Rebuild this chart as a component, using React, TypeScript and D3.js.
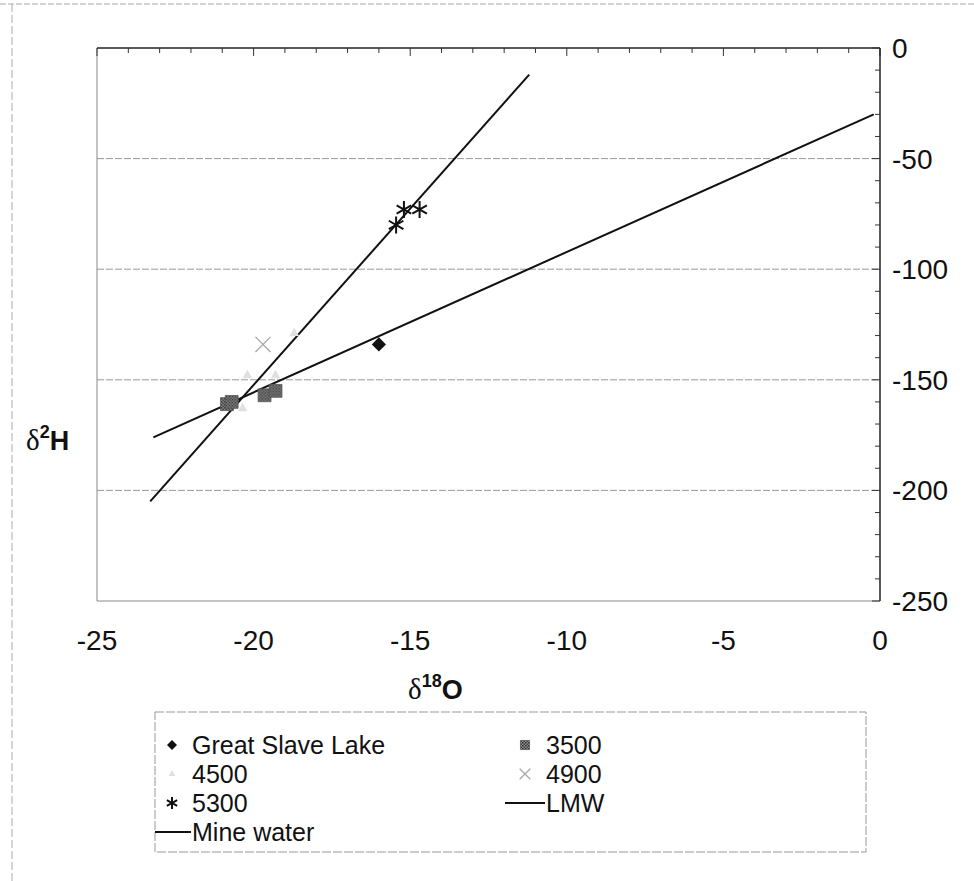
import React from "react";
import * as d3 from "d3";

const width = 974;
const height = 881;

// axes
const xDomain = [-25, 0];
const yDomain = [0, -250];
const xTickLabels = [-25, -20, -15, -10, -5, 0];
const yTickLabels = [0, -50, -100, -150, -200, -250];
const gridValues = [-50, -100, -150, -200];

// samples (δ18O, δ2H)
const greatSlaveLake = [[-16.0, -134]];
const depth3500 = [[-20.85, -161], [-20.7, -160], [-19.65, -157], [-19.3, -155]];
const depth4500 = [[-18.7, -129], [-20.2, -148], [-19.3, -148], [-20.35, -163]];
const depth4900 = [[-19.7, -134]];
const depth5300 = [[-15.2, -73], [-14.7, -73], [-15.45, -80]];

// fitted lines
const lmwLine = [[-23.2, -176], [-0.2, -30]];
const mineWaterLine = [[-23.3, -205], [-11.2, -12]];

const font = "'Liberation Sans', Arial, sans-serif";
const serif = "'Liberation Serif', 'DejaVu Serif', serif";

const x = d3.scaleLinear().domain(xDomain).range([97, 880]);
const y = d3.scaleLinear().domain(yDomain).range([48, 601]);

const line = d3.line<number[]>().x(d => x(d[0])).y(d => y(d[1]));

const sym = (type: any, size: number) => d3.symbol().type(type).size(size)() || "";
const timesType = (d3 as any).symbolTimes || d3.symbolCross;
const asteriskType = (d3 as any).symbolAsterisk || d3.symbolCross;

const drawMarker = (kind: string, key: string | number, cx: number, cy: number, s: number) => {
    const t = `translate(${cx},${cy})`;
    if (kind === "gsl") return <path key={key} transform={`${t} rotate(45)`} d={sym(d3.symbolSquare, 100 * s)} fill="#111" />;
    if (kind === "3500") return <path key={key} transform={t} d={sym(d3.symbolSquare, 165 * s)} fill="url(#hatch)" stroke="#555" strokeWidth={0.8} />;
    if (kind === "4500") return <path key={key} transform={t} d={sym(d3.symbolTriangle, 40 * s)} fill="#e0e0e0" />;
    if (kind === "4900") return <path key={key} transform={t} d={sym(timesType, 150 * s)} fill="none" stroke="#a8a8a8" strokeWidth={1.3} />;
    return <path key={key} transform={t} d={sym(asteriskType, 200 * s)} fill="none" stroke="#111" strokeWidth={2} />;
};

const legendItems = [
    { label: "Great Slave Lake", kind: "gsl", col: 0, row: 0 },
    { label: "3500", kind: "3500", col: 1, row: 0 },
    { label: "4500", kind: "4500", col: 0, row: 1 },
    { label: "4900", kind: "4900", col: 1, row: 1 },
    { label: "5300", kind: "5300", col: 0, row: 2 },
    { label: "LMW", kind: "line", col: 1, row: 2 },
    { label: "Mine water", kind: "line", col: 0, row: 3 },
];

export default function App() {
    const [x0, x1] = x.range();
    const [y0, y1] = y.range();
    return (
        <div style={{ position: "absolute", left: 0, top: 0 }}>
            <svg width={width} height={height} style={{ display: "block", background: "#fff" }}>
                <defs>
                    <pattern id="hatch" width="3" height="3" patternUnits="userSpaceOnUse">
                        <rect width="3" height="3" fill="#8a8a8a" />
                        <rect width="1.5" height="1.5" fill="#333" />
                        <rect x="1.5" y="1.5" width="1.5" height="1.5" fill="#444" />
                    </pattern>
                </defs>

                {/* outer frame */}
                <line x1={0} x2={width} y1={4} y2={4} stroke="#aaa" strokeWidth={1} strokeDasharray="6 2" />
                <line x1={12} x2={12} y1={4} y2={height} stroke="#aaa" strokeWidth={1} strokeDasharray="8 3" />

                {/* grid */}
                {gridValues.map(v => (
                    <line key={v} x1={x0} x2={x1} y1={y(v)} y2={y(v)} stroke="#999" strokeWidth={1} strokeDasharray="7 2" />
                ))}

                {/* plot border */}
                <line x1={x0} x2={x0} y1={y0} y2={y1} stroke="#888" strokeWidth={1} />
                <line x1={x0} x2={x1} y1={y1} y2={y1} stroke="#888" strokeWidth={1} />

                {/* x axis at top (y = 0) */}
                <line x1={x0} x2={x1} y1={y(0)} y2={y(0)} stroke="#222" strokeWidth={1.5} />
                {d3.range(-25, 1, 1).map(v => (
                    <line key={v} x1={x(v)} x2={x(v)} y1={y(0)} y2={y(0) + (v % 5 === 0 ? 8 : 5)} stroke="#333" strokeWidth={1} />
                ))}

                {/* y axis at right (x = 0) */}
                <line x1={x(0)} x2={x(0)} y1={y0} y2={y1} stroke="#222" strokeWidth={1.5} />
                {d3.range(0, -251, -10).map(v => (
                    <line key={v} x1={x(0)} x2={x(0) - (v % 50 === 0 ? 8 : 5)} y1={y(v)} y2={y(v)} stroke="#333" strokeWidth={1} />
                ))}

                {/* tick labels */}
                {xTickLabels.map(v => (
                    <text key={v} x={x(v)} y={650} textAnchor="middle" fontFamily={font} fontSize={28} fill="#111">{v}</text>
                ))}
                {yTickLabels.map(v => (
                    <text key={v} x={x(0) + 12} y={y(v) + 10} fontFamily={font} fontSize={28} fill="#111">{v}</text>
                ))}

                {/* axis titles */}
                <text x={408} y={699} fontFamily={font} fontSize={27} fill="#111">
                    <tspan fontFamily={serif} fontSize={29}>δ</tspan>
                    <tspan fontWeight="bold" fontSize={18} dy={-12}>18</tspan>
                    <tspan fontWeight="bold" dy={12}>O</tspan>
                </text>
                <text x={26} y={450} fontFamily={font} fontSize={27} fill="#111">
                    <tspan fontFamily={serif} fontSize={29}>δ</tspan>
                    <tspan fontWeight="bold" fontSize={18} dy={-12}>2</tspan>
                    <tspan fontWeight="bold" dy={12}>H</tspan>
                </text>

                {/* lines */}
                <path d={line(lmwLine) || ""} fill="none" stroke="#111" strokeWidth={2} />
                <path d={line(mineWaterLine) || ""} fill="none" stroke="#111" strokeWidth={2} />

                {/* markers */}
                {depth4500.map((d, i) => drawMarker("4500", "a" + i, x(d[0]), y(d[1]), 1))}
                {depth4900.map((d, i) => drawMarker("4900", "b" + i, x(d[0]), y(d[1]), 1))}
                {depth3500.map((d, i) => drawMarker("3500", "c" + i, x(d[0]), y(d[1]), 1))}
                {greatSlaveLake.map((d, i) => drawMarker("gsl", "d" + i, x(d[0]), y(d[1]), 1))}
                {depth5300.map((d, i) => drawMarker("5300", "e" + i, x(d[0]), y(d[1]), 1))}

                {/* legend */}
                <rect x={155} y={712} width={711} height={140} fill="none" stroke="#999" strokeWidth={1} strokeDasharray="9 2" />
                {legendItems.map(it => {
                    const cx = it.col === 0 ? 172 : 525;
                    const cy = 745 + it.row * 29;
                    const tx = it.col === 0 ? 192 : 546;
                    return (
                        <g key={it.label}>
                            {it.kind === "line"
                                ? <line x1={it.col === 0 ? 155 : 505} x2={tx - 1} y1={cy} y2={cy} stroke="#111" strokeWidth={2} />
                                : drawMarker(it.kind, it.label, cx, cy, 0.5)}
                            <text x={tx} y={cy + 9} fontFamily={font} fontSize={25} fill="#111">{it.label}</text>
                        </g>
                    );
                })}
            </svg>
        </div>
    );
}
